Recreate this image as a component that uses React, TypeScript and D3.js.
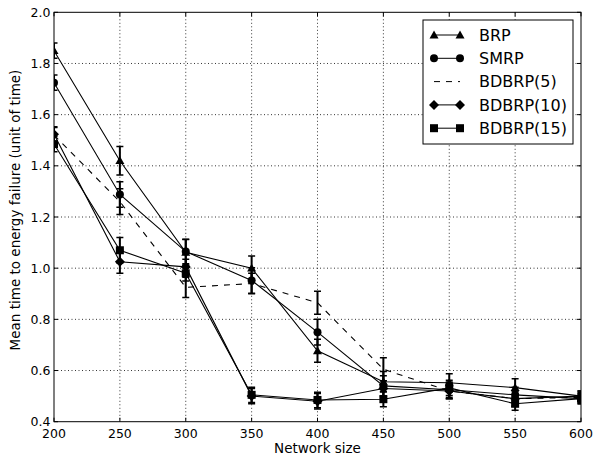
import React from "react";
import * as d3 from "d3";

const sizes = [200, 250, 300, 350, 400, 450, 500, 550, 600];
const xTicks = [200, 250, 300, 350, 400, 450, 500, 550, 600];
const yTicks = [0.4, 0.6, 0.8, 1.0, 1.2, 1.4, 1.6, 1.8, 2.0];

const brp = [1.85, 1.42, 1.062, 1.0, 0.677, 0.556, 0.552, 0.533, 0.5];
const brpErr = [0.03, 0.056, 0.05, 0.048, 0.045, 0.04, 0.035, 0.035, 0.02];
const smrp = [1.725, 1.288, 1.065, 0.952, 0.75, 0.54, 0.525, 0.505, 0.49];
const smrpErr = [0.03, 0.05, 0.048, 0.05, 0.05, 0.04, 0.03, 0.03, 0.02];
const bd5 = [1.52, 1.26, 0.925, 0.94, 0.865, 0.605, 0.52, 0.49, 0.495];
const bd5Err = [0.03, 0.05, 0.04, 0.04, 0.045, 0.045, 0.03, 0.03, 0.02];
const bd10 = [1.523, 1.025, 1.005, 0.5, 0.48, 0.53, 0.52, 0.49, 0.5];
const bd10Err = [0.03, 0.045, 0.03, 0.03, 0.03, 0.03, 0.03, 0.03, 0.02];
const bd15 = [1.485, 1.07, 0.98, 0.505, 0.485, 0.488, 0.532, 0.47, 0.49];
const bd15Err = [0.03, 0.05, 0.03, 0.03, 0.03, 0.03, 0.03, 0.025, 0.02];

const seriesNames = ["BRP", "SMRP", "BDBRP(5)", "BDBRP(10)", "BDBRP(15)"];
const markers = ["triangle", "circle", "none", "diamond", "square"];
const dashed = [false, false, true, false, false];

const W = 595, H = 457;
const L = 54, R = 581, T = 12.3, B = 421.7;
const FONT = "DejaVu Sans";

function Marker({ kind, x, y }: { kind: string; x: number; y: number }) {
  if (kind === "triangle") {
    const s = 4.5;
    return <path d={`M${x},${y - s}L${x + s},${y + s * 0.75}L${x - s},${y + s * 0.75}Z`} fill="black" />;
  }
  if (kind === "circle") return <circle cx={x} cy={y} r={4} fill="black" />;
  if (kind === "diamond") {
    const s = 5;
    return <path d={`M${x},${y - s}L${x + s},${y}L${x},${y + s}L${x - s},${y}Z`} fill="black" />;
  }
  if (kind === "square") return <rect x={x - 4} y={y - 4} width={8} height={8} fill="black" />;
  return null;
}

export default function App() {
  const x = d3.scaleLinear().domain([200, 600]).range([L, R]);
  const y = d3.scaleLinear().domain([0.4, 2.0]).range([B, T]);
  const values = [brp, smrp, bd5, bd10, bd15];
  const errs = [brpErr, smrpErr, bd5Err, bd10Err, bd15Err];
  const line = d3.line<number>().x((_, i) => x(sizes[i])).y((d) => y(d));

  return (
    <svg width={W} height={H} style={{ position: "absolute", left: 0, top: 0, background: "white" }}>
      <rect x={0} y={0} width={W} height={H} fill="white" />
      {xTicks.slice(1, -1).map((t) => (
        <line key={"gx" + t} x1={x(t)} x2={x(t)} y1={T} y2={B} stroke="black" strokeWidth={0.8} strokeDasharray="1,2.5" />
      ))}
      {yTicks.slice(1, -1).map((t) => (
        <line key={"gy" + t} x1={L} x2={R} y1={y(t)} y2={y(t)} stroke="black" strokeWidth={0.8} strokeDasharray="1,2.5" />
      ))}
      <defs>
        <clipPath id="plotclip">
          <rect x={L} y={T} width={R - L} height={B - T} />
        </clipPath>
      </defs>
      <g clipPath="url(#plotclip)">
        {values.map((v, si) => (
          <g key={"s" + si}>
            <path d={line(v) || ""} fill="none" stroke="black" strokeWidth={1.1} strokeDasharray={dashed[si] ? "6,6" : undefined} />
            {v.map((val, i) => {
              const cx = x(sizes[i]);
              const e = errs[si][i];
              return (
                <g key={i}>
                  <line x1={cx} x2={cx} y1={y(val + e)} y2={y(val - e)} stroke="black" strokeWidth={2} />
                  <line x1={cx - 3.5} x2={cx + 3.5} y1={y(val + e)} y2={y(val + e)} stroke="black" strokeWidth={1.5} />
                  <line x1={cx - 3.5} x2={cx + 3.5} y1={y(val - e)} y2={y(val - e)} stroke="black" strokeWidth={1.5} />
                  <Marker kind={markers[si]} x={cx} y={y(val)} />
                </g>
              );
            })}
          </g>
        ))}
      </g>
      <rect x={L} y={T} width={R - L} height={B - T} fill="none" stroke="black" strokeWidth={1} />
      {xTicks.map((t) => (
        <g key={"tx" + t}>
          <line x1={x(t)} x2={x(t)} y1={B} y2={B - 4} stroke="black" strokeWidth={1} />
          <line x1={x(t)} x2={x(t)} y1={T} y2={T + 4} stroke="black" strokeWidth={1} />
          <text x={x(t)} y={438} textAnchor="middle" fontFamily={FONT} fontSize={12.5} fill="black">{t}</text>
        </g>
      ))}
      {yTicks.map((t) => (
        <g key={"ty" + t}>
          <line x1={L} x2={L + 4} y1={y(t)} y2={y(t)} stroke="black" strokeWidth={1} />
          <line x1={R} x2={R - 4} y1={y(t)} y2={y(t)} stroke="black" strokeWidth={1} />
          <text x={50.5} y={y(t)} dy="0.36em" textAnchor="end" fontFamily={FONT} fontSize={12.5} fill="black">{t.toFixed(1)}</text>
        </g>
      ))}
      <text x={(L + R) / 2} y={453} textAnchor="middle" fontFamily={FONT} fontSize={13.5} fill="black">Network size</text>
      <text transform={`translate(20,210) rotate(-90)`} textAnchor="middle" fontFamily={FONT} fontSize={13.5} fill="black">Mean time to energy failure (unit of time)</text>
      <rect x={423} y={20} width={150} height={124} fill="white" stroke="black" strokeWidth={1} />
      {seriesNames.map((n, i) => {
        const ly = 35 + i * 23.3;
        return (
          <g key={"lg" + i}>
            <line x1={434} x2={460} y1={ly} y2={ly} stroke="black" strokeWidth={1} strokeDasharray={dashed[i] ? "6,6" : undefined} />
            <Marker kind={markers[i]} x={434} y={ly} />
            <Marker kind={markers[i]} x={460} y={ly} />
            <text x={479} y={ly} dy="0.36em" fontFamily={FONT} fontSize={16} fill="black">{n}</text>
          </g>
        );
      })}
    </svg>
  );
}
